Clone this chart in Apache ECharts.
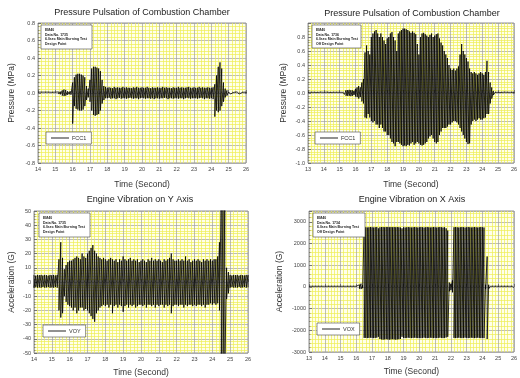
<!DOCTYPE html>
<html>
<head>
<meta charset="utf-8">
<script src="https://cdn.jsdelivr.net/npm/echarts@6/dist/echarts.min.js"></script>
<style>
  html, body { margin: 0; padding: 0; background: #fff; }
  #chart { width: 520px; height: 378px; }
</style>
</head>
<body>
<div id="chart"></div>
<script>
  // envelope of the recorded signal, one max/min pair every 0.1 s
  const STEP = 0.1;

  // Pressure pulsation, design point (14 s .. 26 s)
  const fcc1Start = 14;
  const fcc1Hi = [
    0.01, 0.012, 0.01, 0.008, 0.01, 0.012, 0.01, 0.01, 0.008, 0.01,
    0.01, 0.01, 0.012, 0.015, 0.03, 0.04, 0.035, 0.02, 0.015, 0.02,
    0.12, 0.18, 0.21, 0.22, 0.22, 0.21, 0.2, 0.18, 0.08, 0.05,
    0.15, 0.28, 0.3, 0.3, 0.29, 0.28, 0.25, 0.15, 0.08, 0.07,
    0.06, 0.065, 0.06, 0.055, 0.07, 0.06, 0.065, 0.06, 0.06, 0.07,
    0.06, 0.065, 0.06, 0.06, 0.055, 0.065, 0.06, 0.07, 0.06, 0.06,
    0.065, 0.06, 0.06, 0.07, 0.06, 0.055, 0.065, 0.06, 0.06, 0.065,
    0.06, 0.06, 0.07, 0.06, 0.065, 0.06, 0.06, 0.055, 0.065, 0.06,
    0.06, 0.07, 0.06, 0.065, 0.06, 0.06, 0.065, 0.07, 0.06, 0.06,
    0.065, 0.06, 0.06, 0.07, 0.06, 0.065, 0.06, 0.06, 0.065, 0.06,
    0.06, 0.065, 0.1, 0.2, 0.3, 0.35, 0.28, 0.12, 0.05, 0.03,
    0.012, 0.01, 0.01, 0.008, 0.01, 0.012, 0.01, 0.01, 0.008, 0.01,
    0.01
  ];
  const fcc1Lo = [
    -0.01, -0.008, -0.01, -0.012, -0.01, -0.008, -0.01, -0.01, -0.012, -0.01,
    -0.01, -0.01, -0.012, -0.015, -0.03, -0.035, -0.03, -0.02, -0.015, -0.02,
    -0.35, -0.15, -0.18, -0.19, -0.2, -0.2, -0.19, -0.15, -0.08, -0.05,
    -0.1, -0.2, -0.25, -0.26, -0.25, -0.24, -0.2, -0.12, -0.08, -0.06,
    -0.06, -0.055, -0.065, -0.06, -0.06, -0.07, -0.06, -0.055, -0.065, -0.06,
    -0.06, -0.065, -0.06, -0.055, -0.06, -0.065, -0.06, -0.06, -0.07, -0.06,
    -0.055, -0.06, -0.065, -0.06, -0.06, -0.065, -0.06, -0.07, -0.06, -0.06,
    -0.065, -0.06, -0.06, -0.055, -0.06, -0.07, -0.06, -0.06, -0.065, -0.06,
    -0.06, -0.065, -0.06, -0.06, -0.07, -0.06, -0.055, -0.06, -0.065, -0.06,
    -0.06, -0.06, -0.065, -0.06, -0.055, -0.06, -0.07, -0.06, -0.06, -0.065,
    -0.06, -0.07, -0.27, -0.2, -0.22, -0.2, -0.15, -0.1, -0.05, -0.03,
    -0.01, -0.012, -0.01, -0.008, -0.01, -0.01, -0.012, -0.01, -0.008, -0.01,
    -0.01
  ];

  // Pressure pulsation, off design point (13 s .. 26 s)
  const fcc2Start = 13;
  const fcc2Hi = [
    0.01, 0.008, 0.01, 0.012, 0.01, 0.01, 0.008, 0.01, 0.012, 0.01,
    0.01, 0.01, 0.012, 0.01, 0.008, 0.01, 0.01, 0.012, 0.01, 0.01,
    0.01, 0.012, 0.01, 0.02, 0.04, 0.04, 0.045, 0.04, 0.04, 0.03,
    0.06, 0.08, 0.1, 0.08, 0.15, 0.2, 0.58, 0.68, 0.6, 0.55,
    0.8, 0.85, 0.88, 0.9, 0.85, 0.8, 0.85, 0.8, 0.75, 0.7,
    0.78, 0.8, 0.85, 0.87, 0.8, 0.75, 0.6, 0.85, 0.88, 0.9,
    0.92, 0.92, 0.91, 0.9, 0.88, 0.86, 0.88, 0.86, 0.84, 0.7,
    0.55, 0.8, 0.85, 0.86, 0.84, 0.82, 0.8, 0.83, 0.85, 0.8,
    0.82, 0.84, 0.85, 0.78, 0.72, 0.68, 0.6, 0.55, 0.5, 0.4,
    0.35, 0.33, 0.35, 0.32, 0.35, 0.38, 0.55, 0.7, 0.6, 0.55,
    0.5, 0.45, 0.35, 0.3, 0.28, 0.3, 0.28, 0.26, 0.28, 0.3,
    0.28, 0.26, 0.3, 0.46, 0.3, 0.15, 0.08, 0.03, 0.01, 0.012,
    0.01, 0.01, 0.008, 0.01, 0.012, 0.01, 0.01, 0.008, 0.01, 0.01,
    0.01
  ];
  const fcc2Lo = [
    -0.01, -0.012, -0.01, -0.008, -0.01, -0.01, -0.012, -0.01, -0.008, -0.01,
    -0.01, -0.01, -0.008, -0.01, -0.012, -0.01, -0.01, -0.008, -0.01, -0.01,
    -0.01, -0.008, -0.01, -0.02, -0.04, -0.04, -0.04, -0.045, -0.04, -0.03,
    -0.05, -0.06, -0.08, -0.06, -0.12, -0.15, -0.35, -0.36, -0.3, -0.35,
    -0.4, -0.42, -0.4, -0.45, -0.45, -0.5, -0.45, -0.5, -0.55, -0.55,
    -0.6, -0.6, -0.65, -0.7, -0.72, -0.76, -0.7, -0.7, -0.72, -0.74,
    -0.76, -0.75, -0.76, -0.74, -0.75, -0.72, -0.7, -0.74, -0.72, -0.7,
    -0.72, -0.74, -0.75, -0.74, -0.72, -0.7, -0.65, -0.62, -0.6, -0.65,
    -0.7, -0.72, -0.7, -0.6, -0.55, -0.5, -0.5, -0.5, -0.48, -0.45,
    -0.45, -0.42, -0.4, -0.4, -0.42, -0.45, -0.5, -0.55, -0.6, -0.65,
    -0.7, -0.73, -0.72, -0.45, -0.4, -0.38, -0.4, -0.38, -0.36, -0.38,
    -0.38, -0.36, -0.35, -0.3, -0.3, -0.15, -0.08, -0.03, -0.01, -0.01,
    -0.012, -0.01, -0.01, -0.01, -0.008, -0.01, -0.012, -0.01, -0.01, -0.008,
    -0.01
  ];

  // Engine vibration on Y axis (14 s .. 26 s)
  const voyStart = 14;
  const voyHi = [
    5, 4.5, 5, 4.8, 5, 4.6, 5, 4.8, 4.5, 5,
    4.8, 5, 4.6, 5, 16, 28, 17, 9, 12, 14,
    15, 15, 16, 17, 18, 17, 16, 20, 18, 17,
    20, 22, 24, 26, 22, 20, 18, 17, 16, 17,
    16, 15, 16, 17, 16, 15, 16, 14, 16, 15,
    18, 16, 15, 16, 17, 15, 16, 15, 16, 14,
    15, 16, 15, 14, 16, 15, 17, 15, 16, 15,
    16, 15, 14, 16, 15, 16, 17, 20, 16, 15,
    15, 16, 15, 16, 15, 18, 15, 16, 14, 15,
    16, 15, 16, 15, 14, 16, 15, 16, 15, 16,
    15, 16, 16, 18, 28, 60, 60, 60, 10, 7,
    5, 4.6, 5, 4.8, 5, 4.5, 5, 4.8, 4.6, 5,
    4.8
  ];
  const voyLo = [
    -4, -3.6, -4, -3.8, -4, -3.5, -4, -3.8, -3.6, -4,
    -3.8, -4, -3.6, -4, -20, -25, -22, -10, -14, -16,
    -17, -18, -20, -18, -22, -20, -18, -18, -20, -19,
    -20, -22, -24, -26, -28, -22, -20, -18, -17, -16,
    -17, -16, -18, -16, -22, -17, -16, -18, -16, -17,
    -21, -17, -16, -18, -16, -17, -16, -18, -17, -16,
    -16, -17, -16, -18, -16, -16, -17, -16, -18, -16,
    -17, -16, -16, -18, -16, -17, -16, -22, -17, -16,
    -16, -17, -16, -16, -18, -16, -17, -16, -16, -17,
    -16, -17, -16, -16, -17, -16, -18, -16, -16, -15,
    -16, -15, -16, -15, -20, -60, -60, -60, -12, -8,
    -4, -3.6, -4, -3.8, -4, -3.5, -4, -3.8, -3.6, -4,
    -3.8
  ];

  // Engine vibration on X axis (13 s .. 26 s)
  const voxStart = 13;
  const voxHi = [
    30, 30, 30, 30, 30, 30, 30, 30, 30, 30,
    30, 30, 30, 30, 30, 30, 30, 30, 30, 30,
    30, 30, 30, 30, 30, 30, 30, 30, 30, 30,
    30, 30, 100, 150, 80, 2750, 2750, 2740, 2750, 2760,
    2750, 2740, 2750, 2760, 2700, 2750, 2760, 2760, 2750, 2760,
    2760, 2750, 2760, 2750, 2760, 2750, 2760, 2750, 2740, 2700,
    2750, 2740, 2750, 2760, 2750, 2740, 2750, 2760, 2750, 2740,
    2750, 2760, 2750, 2740, 2750, 2760, 2750, 2740, 2750, 2760,
    2750, 2740, 2750, 2760, 2750, 2740, 2750, 2700, 2600, 200,
    150, 300, 2750, 2760, 2750, 2740, 2750, 2760, 2750, 2740,
    2750, 2760, 2750, 2740, 2750, 2760, 2750, 2740, 2750, 2760,
    2750, 2740, 100, 1400, 100, 30, 30, 30, 30, 30,
    30, 30, 30, 30, 30, 30, 30, 30, 30, 30,
    30
  ];
  const voxLo = [
    -30, -30, -30, -30, -30, -30, -30, -30, -30, -30,
    -30, -30, -30, -30, -30, -30, -30, -30, -30, -30,
    -30, -30, -30, -30, -30, -30, -30, -30, -30, -30,
    -30, -30, -80, -100, -60, -2350, -2350, -2360, -2350, -2340,
    -2350, -2360, -2350, -2340, -2300, -2400, -2420, -2430, -2420, -2410,
    -2420, -2430, -2420, -2410, -2420, -2430, -2420, -2410, -2400, -2300,
    -2350, -2360, -2350, -2340, -2350, -2360, -2350, -2340, -2350, -2360,
    -2350, -2360, -2350, -2340, -2350, -2360, -2350, -2340, -2350, -2360,
    -2350, -2360, -2350, -2340, -2350, -2360, -2350, -2330, -2300, -200,
    -150, -250, -2350, -2360, -2350, -2340, -2350, -2360, -2350, -2340,
    -2350, -2360, -2350, -2340, -2350, -2360, -2350, -2340, -2350, -2360,
    -2350, -2360, -100, -2400, -80, -30, -30, -30, -30, -30,
    -30, -30, -30, -30, -30, -30, -30, -30, -30, -30,
    -30
  ];

  const titles = [
    'Pressure Pulsation of Combustion Chamber',
    'Pressure Pulsation of Combustion Chamber',
    'Engine Vibration on Y Axis',
    'Engine Vibration on X Axis'
  ];
  const infoTexts = [
    'EM40\nData No. 1735\n6.0sec Main Burning Test\nDesign Point',
    'EM40\nData No. 1736\n6.0sec Main Burning Test\nOff Design Point',
    'EM40\nData No. 1735\n6.0sec Main Burning Test\nDesign Point',
    'EM40\nData No. 1734\n6.0sec Main Burning Test\nOff Design Point'
  ];

  // each max/min pair becomes a vertical stroke, strokes joined in time order
  function zigzag(t0, hi, lo) {
    const pts = [];
    for (let i = 0; i < hi.length; i++) {
      const t = +(t0 + i * STEP).toFixed(2);
      pts.push([t, hi[i]], [t, lo[i]]);
    }
    return pts;
  }

  const FONT = 'Liberation Sans, Arial, sans-serif';
  const grids = [
    { left: 38, top: 23, width: 208, height: 140 },
    { left: 308, top: 23, width: 209, height: 140 },
    { left: 34, top: 211, width: 214, height: 143 },
    { left: 309, top: 211, width: 213, height: 141 }
  ].map(g => Object.assign(g, {
    show: true,
    backgroundColor: '#ffffea',
    borderColor: '#777',
    borderWidth: 0.8
  }));

  function xAxis(i, min, nameGap) {
    return {
      type: 'value', gridIndex: i, min: min, max: 26, interval: 1,
      name: 'Time (Second)', nameLocation: 'middle', nameGap: nameGap,
      nameTextStyle: { fontFamily: FONT, fontSize: 8.5, color: '#333' },
      axisLine: { show: false },
      axisTick: { inside: true, length: 3, lineStyle: { color: '#444', width: 0.6 } },
      minorTick: { show: true, splitNumber: 5, length: 1.5, lineStyle: { color: '#444', width: 0.5 } },
      axisLabel: { fontFamily: FONT, fontSize: 5.5, color: '#444', margin: 3 },
      splitLine: { show: true, lineStyle: { color: '#a0a0a0', width: 0.7 } },
      minorSplitLine: { show: true, lineStyle: { color: '#eeee55', width: 0.7 } }
    };
  }

  function yAxis(i, name, min, max, interval, nameGap, digits) {
    return {
      type: 'value', gridIndex: i, min: min, max: max, interval: interval,
      name: name, nameLocation: 'middle', nameGap: nameGap,
      nameTextStyle: { fontFamily: FONT, fontSize: 8.5, color: '#333' },
      axisLine: { show: false },
      axisTick: { inside: true, length: 3, lineStyle: { color: '#444', width: 0.6 } },
      minorTick: { show: true, splitNumber: 5, length: 1.5, lineStyle: { color: '#444', width: 0.5 } },
      axisLabel: {
        fontFamily: FONT, fontSize: 5.5, color: '#444', margin: 3, showMaxLabel: max % interval === 0,
        formatter: v => v.toFixed(digits)
      },
      splitLine: { show: true, lineStyle: { color: '#a0a0a0', width: 0.7 } },
      minorSplitLine: { show: true, lineStyle: { color: '#eeee55', width: 0.7 } }
    };
  }

  function signal(i, name, t0, hi, lo) {
    return {
      type: 'line', name: name, xAxisIndex: i, yAxisIndex: i,
      data: zigzag(t0, hi, lo),
      symbol: 'none', clip: true,
      lineStyle: { color: '#000', width: 0.8 },
      itemStyle: { color: '#000' }
    };
  }

  function legend(name, left, top) {
    return {
      data: [{ name: name, icon: 'rect', itemStyle: { color: '#222' } }],
      left: left, top: top, orient: 'vertical',
      selectedMode: false, itemWidth: 18, itemHeight: 1, itemGap: 0,
      padding: [3, 5, 3, 5],
      backgroundColor: '#fff', borderColor: '#444', borderWidth: 0.6,
      textStyle: { fontFamily: FONT, fontSize: 5.5, color: '#333', padding: [0, 0, 0, -2] }
    };
  }

  const titlePos = [[142, 13], [412, 14], [140, 200], [412, 200]];
  const infoPos = [[41, 25, 51, 24], [312, 25, 49, 23], [39, 213, 51, 24], [313, 213, 52, 24]];

  const graphics = [];
  titles.forEach((t, k) => {
    graphics.push({
      type: 'text', x: titlePos[k][0], y: titlePos[k][1], z: 10,
      style: { text: t, fill: '#222', font: '9px ' + FONT, textAlign: 'center', textVerticalAlign: 'middle' }
    });
  });
  infoTexts.forEach((t, k) => {
    const p = infoPos[k];
    graphics.push({
      type: 'rect', x: p[0], y: p[1], z: 10,
      shape: { width: p[2], height: p[3] },
      style: { fill: '#fff', stroke: '#444', lineWidth: 0.6 }
    });
    graphics.push({
      type: 'text', x: p[0] + 4, y: p[1] + 3, z: 11,
      style: { text: t, fill: '#222', font: 'bold 3.5px ' + FONT, lineHeight: 4.6 }
    });
  });

  const chart = echarts.init(document.getElementById('chart'));
  chart.setOption({
    animation: false,
    backgroundColor: '#fff',
    grid: grids,
    xAxis: [xAxis(0, 14, 17), xAxis(1, 13, 17), xAxis(2, 14, 15), xAxis(3, 13, 15)],
    yAxis: [
      yAxis(0, 'Pressure (MPa)', -0.8, 0.8, 0.2, 22, 1),
      yAxis(1, 'Pressure (MPa)', -1.0, 1.0, 0.2, 20, 1),
      yAxis(2, 'Acceleration (G)', -50, 50, 10, 18, 0),
      yAxis(3, 'Acceleration (G)', -3000, 3500, 1000, 25, 0)
    ],
    legend: [
      legend('FCC1', 46, 132),
      legend('FCC1', 315, 132),
      legend('VOY', 43, 325),
      legend('VOX', 317, 323)
    ],
    series: [
      signal(0, 'FCC1', fcc1Start, fcc1Hi, fcc1Lo),
      signal(1, 'FCC1', fcc2Start, fcc2Hi, fcc2Lo),
      signal(2, 'VOY', voyStart, voyHi, voyLo),
      signal(3, 'VOX', voxStart, voxHi, voxLo)
    ],
    graphic: graphics
  });
</script>
</body>
</html>
